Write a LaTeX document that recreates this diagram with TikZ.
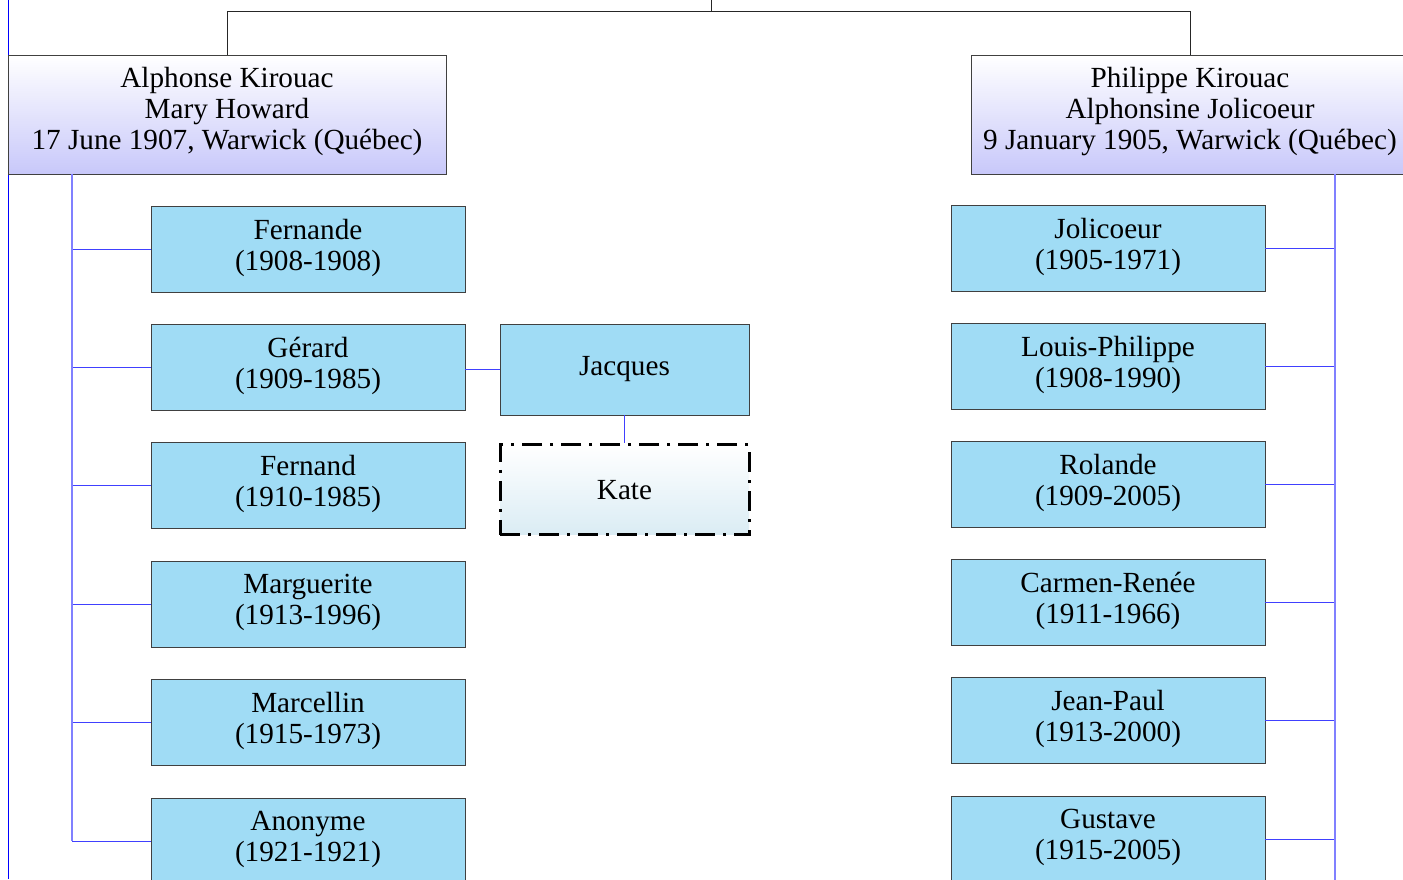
\documentclass[tikz,border=0pt]{standalone}
\usepackage{fontspec}
\setmainfont{Liberation Serif}
\usetikzlibrary{positioning}
\definecolor{kidblue}{RGB}{160,220,245}
\definecolor{lavender}{RGB}{200,200,250}
\definecolor{mist}{RGB}{218,236,244}
\begin{document}
\begin{tikzpicture}[x=0.5pt,y=-0.5pt,
    couple/.style={rectangle, draw=black!75, top color=white, bottom color=lavender, align=center,
      minimum width=219pt, minimum height=59.5pt, inner sep=0pt, font=\fontsize{14.6}{15.5}\selectfont},
    kid/.style={rectangle, draw=black!75, fill=kidblue, align=center,
      minimum width=157pt, minimum height=43pt, inner sep=0pt, font=\fontsize{14.6}{15.5}\selectfont},
    spouse/.style={rectangle, draw=black, line width=1.5pt, dash pattern=on 10pt off 4pt on 1.5pt off 4pt,
      top color=white, bottom color=mist, minimum width=124.5pt, minimum height=45pt, inner sep=0pt,
      font=\fontsize{14.6}{15.5}\selectfont},
    tree/.style={draw=black!85, line width=0.5pt},
    link/.style={draw=blue!75, line width=0.5pt},
    spine/.style={draw=blue!50, line width=1.1pt}
]
\clip (0,0) rectangle (1403,879);
\useasboundingbox (0,0) rectangle (1403,879);

\draw[draw=blue, line width=0.5pt] (8,0) -- (8,879);

% parents
\node[couple] (lp) at (227,114.5) {Alphonse Kirouac\\Mary Howard\\17 June 1907, Warwick (Québec)\\[-9pt]};
\node[couple] (rp) at (1190,114.5) {Philippe Kirouac\\Alphonsine Jolicoeur\\9 January 1905, Warwick (Québec)\\[-9pt]};

\coordinate (top) at (711,0);
\draw[tree] (top) -- ++(0,12);
\draw[tree] (lp.north) -- ++(0,-43) -| (rp.north);

% children
\coordinate (ls) at (72,174);
\coordinate (rs) at (1335,174);
\foreach \i/\who/\yrs in {0/Fernande/1908-1908, 1/Gérard/1909-1985, 2/Fernand/1910-1985,
                          3/Marguerite/1913-1996, 4/Marcellin/1915-1973, 5/Anonyme/1921-1921}{
  \node[kid] (lc\i) at (308,{249+118.4*\i}) {\who\\(\yrs)\\[-11pt]};
  \draw[link] (lc\i.west) -- (lc\i.west -| ls);
}
\foreach \i/\who/\yrs in {0/Jolicoeur/1905-1971, 1/Louis-Philippe/1908-1990, 2/Rolande/1909-2005,
                          3/Carmen-Renée/1911-1966, 4/Jean-Paul/1913-2000, 5/Gustave/1915-2005}{
  \node[kid] (rc\i) at (1108,{248+118.2*\i}) {\who\\(\yrs)\\[-11pt]};
  \draw[link] (rc\i.east) -- (rc\i.east -| rs);
}
\draw[spine] (ls) -- (ls |- lc5.west);
\draw[spine] (rs) -- ++(0,720);

% Gerard's family
\node[kid, minimum width=124.5pt, minimum height=45.5pt] (jq) at (624.5,369.5) {Jacques};
\node[spouse, below=14pt of jq] (kt) {Kate};
\draw[link] (jq.west -| lc1.east) -- (jq.west);
\draw[link] (jq.south) -- (kt.north);

\end{tikzpicture}
\end{document}
